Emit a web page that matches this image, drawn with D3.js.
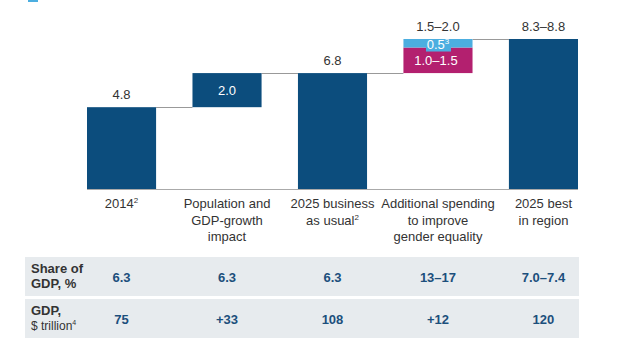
<!DOCTYPE html>
<html>
<head>
<meta charset="utf-8">
<script src="https://cdn.jsdelivr.net/npm/d3@7"></script>
<style>
  body { margin: 0; background: #fff; }
  svg { font-family: "Liberation Sans", Arial, sans-serif; }
</style>
</head>
<body>
<div id="chart"></div>
<script>
// data
const categories = ['2014', 'Population and GDP-growth impact', '2025 business as usual', 'Additional spending to improve gender equality', '2025 best in region']
const catLines = [
    [['2014', '2']],
    [['Population and'], ['GDP-growth'], ['impact']],
    [['2025 business'], ['as usual', '2']],
    [['Additional spending'], ['to improve'], ['gender equality']],
    [['2025 best'], ['in region']]
]
const barValues = [4.8, 2.0, 6.8, 2.0, 8.8]
const barKinds = ['total', 'delta', 'total', 'delta', 'total']
const topLabels = ['4.8', '2.0', '6.8', '1.5–2.0', '8.3–8.8']
const genderSplit = [1.5, 0.5]
const genderLabels = ['1.0–1.5', '0.5']
const shareOfGdp = ['6.3', '6.3', '6.3', '13–17', '7.0–7.4']
const gdpTrillion = ['75', '+33', '108', '+12', '120']

const navy = '#0c4d7d'
const magenta = '#b3206f'
const skyBlue = '#4caee0'

const width = 633, height = 350

const svg = d3.select('#chart')
    .append('svg')
    .attr('width', width)
    .attr('height', height)

// scales
const x = d3.scaleBand()
    .domain(categories)
    .range([87, 578])
    .paddingInner(0.345)
    .paddingOuter(0)

const y = d3.scaleLinear()
    .domain([0, 8.8])
    .range([189, 39])

// running totals for the waterfall
const bars = []
let running = 0
barValues.forEach((v, i) => {
    let from, to
    if (barKinds[i] === 'total') { from = 0; to = v }
    else { from = running; to = running + v }
    running = to
    bars.push({ cat: categories[i], from, to, i })
})

// legend remnant at the top (cut off)
svg.append('rect')
    .attr('x', 28).attr('y', -6)
    .attr('width', 10).attr('height', 8)
    .attr('fill', skyBlue)

// connectors
const links = bars.slice(0, -1)
svg.append('g')
    .selectAll('line')
    .data(links)
    .join('line')
    .attr('x1', d => x(d.cat) + x.bandwidth())
    .attr('x2', d => x(categories[d.i + 1]))
    .attr('y1', d => Math.round(y(d.to)) + 0.5)
    .attr('y2', d => Math.round(y(d.to)) + 0.5)
    .attr('stroke', '#999')
    .attr('stroke-width', 1)

// baseline
svg.append('line')
    .attr('x1', 87).attr('x2', 578)
    .attr('y1', y(0) + 0.5).attr('y2', y(0) + 0.5)
    .attr('stroke', '#aaa')

// main bars (all but the gender split)
svg.append('g')
    .selectAll('rect')
    .data(bars.filter(d => d.i !== 3))
    .join('rect')
    .attr('x', d => x(d.cat))
    .attr('width', x.bandwidth())
    .attr('y', d => y(d.to))
    .attr('height', d => y(d.from) - y(d.to))
    .attr('fill', navy)

// gender equality bar split into two pieces
const g3 = bars[3]
const splitParts = []
let acc = g3.from
genderSplit.forEach((v, k) => {
    splitParts.push({ from: acc, to: acc + v, label: genderLabels[k], color: k === 0 ? magenta : skyBlue })
    acc += v
})
const splitG = svg.append('g')
splitG.selectAll('rect')
    .data(splitParts)
    .join('rect')
    .attr('x', x(g3.cat))
    .attr('width', x.bandwidth())
    .attr('y', d => y(d.to))
    .attr('height', d => y(d.from) - y(d.to))
    .attr('fill', d => d.color)

// light blue tab around the 0.5 label
const cx3 = x(g3.cat) + x.bandwidth() / 2
splitG.append('rect')
    .attr('x', cx3 - 12)
    .attr('width', 25)
    .attr('y', y(splitParts[1].to))
    .attr('height', y(splitParts[1].from) - y(splitParts[1].to) + 4)
    .attr('fill', skyBlue)

splitG.append('text')
    .attr('x', cx3 - 2)
    .attr('y', (y(splitParts[0].from) + y(splitParts[0].to)) / 2 + 5)
    .attr('text-anchor', 'middle')
    .attr('fill', '#fff')
    .style('font-size', '13px')
    .text(splitParts[0].label)

const halfTxt = splitG.append('text')
    .attr('x', cx3)
    .attr('y', (y(splitParts[1].from) + y(splitParts[1].to)) / 2 + 6)
    .attr('text-anchor', 'middle')
    .attr('fill', '#fff')
    .style('font-size', '13px')
halfTxt.append('tspan').text(splitParts[1].label)
halfTxt.append('tspan').attr('dy', -5).style('font-size', '8px').text('3')

// value labels
svg.append('g')
    .selectAll('text')
    .data(bars)
    .join('text')
    .attr('x', d => x(d.cat) + x.bandwidth() / 2)
    .attr('y', d => d.i === 1 ? (y(d.from) + y(d.to)) / 2 + 5 : y(d.to) - 8)
    .attr('text-anchor', 'middle')
    .attr('fill', d => d.i === 1 ? '#fff' : '#333')
    .style('font-size', '13px')
    .text(d => topLabels[d.i])

// category labels
const catG = svg.append('g')
catLines.forEach((lines, i) => {
    const t = catG.append('text')
        .attr('x', x(categories[i]) + x.bandwidth() / 2)
        .attr('y', 208)
        .attr('text-anchor', 'middle')
        .attr('fill', '#333')
        .style('font-size', '13px')
    lines.forEach((ln, k) => {
        const sp = t.append('tspan')
            .attr('x', x(categories[i]) + x.bandwidth() / 2)
            .attr('dy', k === 0 ? 0 : 16.5)
        sp.append('tspan').text(ln[0])
        if (ln[1]) sp.append('tspan').attr('dy', -5).style('font-size', '8px').text(ln[1])
        if (ln[1]) t.append('tspan').attr('dy', 5).text('')
    })
})

// table
const rows = [
    { head: ['Share of', 'GDP, %'], sup: null, vals: shareOfGdp, y0: 257, y1: 296 },
    { head: ['GDP,', '$ trillion'], sup: '4', vals: gdpTrillion, y0: 299, y1: 338 }
]
const tbl = svg.append('g')
rows.forEach((r, ri) => {
    tbl.append('rect')
        .attr('x', 25).attr('y', r.y0)
        .attr('width', 554).attr('height', r.y1 - r.y0)
        .attr('fill', '#e7ebee')
    const mid = (r.y0 + r.y1) / 2
    const h = tbl.append('text')
        .attr('x', 31)
        .attr('fill', '#333')
        .style('font-size', '13px')
    h.append('tspan').attr('x', 31).attr('y', mid - 4)
        .style('font-weight', 'bold').text(r.head[0])
    const l2 = h.append('tspan').attr('x', 31).attr('y', mid + 11)
        .style('font-weight', ri === 0 ? 'bold' : 'normal')
        .style('font-size', ri === 0 ? '13px' : '12px')
        .text(r.head[1])
    if (r.sup) h.append('tspan').attr('dy', -5).style('font-size', '7px').text(r.sup)

    tbl.selectAll(null)
        .data(r.vals)
        .join('text')
        .attr('x', (d, i) => x(categories[i]) + x.bandwidth() / 2)
        .attr('y', mid + 5)
        .attr('text-anchor', 'middle')
        .attr('fill', '#1c4f7c')
        .style('font-size', '13px')
        .style('font-weight', 'bold')
        .text(d => d)
})
</script>
</body>
</html>
